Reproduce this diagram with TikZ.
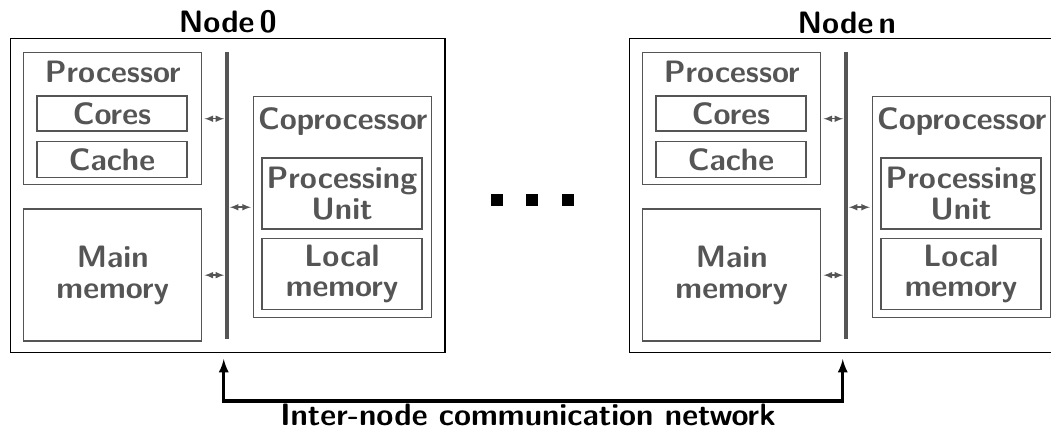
\documentclass[tikz,border=0pt]{standalone}
\usepackage{xcolor}
\usetikzlibrary{arrows,positioning}
\definecolor{partgray}{HTML}{555555}

\begin{document}
\begin{tikzpicture}[x=0.025cm,y=-0.025cm]
    \tikzset{
      outernode/.style={rectangle,draw=black,line width=1pt,inner sep=0pt,anchor=north west},
      partnode/.style={rectangle,draw=partgray,line width=1pt,inner sep=0pt,text=partgray,align=center,font=\sffamily\bfseries\fontsize{22}{22}\selectfont},
      titletext/.style={text=black,font=\sffamily\bfseries\fontsize{22}{22}\selectfont},
      parttext/.style={text=partgray,font=\sffamily\bfseries\fontsize{22}{22}\selectfont,anchor=north},
      busline/.style={draw=partgray,line width=2.2pt},
      busarrow/.style={<->,>=latex,draw=partgray,line width=1.1pt,shorten <=1.5pt,shorten >=2pt},
      netarrow/.style={<->,>=latex,line width=2.2pt,shorten <=4pt,shorten >=4pt}
    }
    \useasboundingbox (0,0) rectangle (1051,429);

    \foreach \nid/\dx in {0/0,n/619}{
      \begin{scope}[shift={(\dx,0)}]
        \node[outernode,minimum width=10.85cm,minimum height=7.85cm,label={[titletext,inner sep=3pt]north:Node\,\nid}](node\nid) at (10,38){};
        \node[partnode,anchor=north west,minimum width=4.45cm,minimum height=3.3cm,label={[parttext,inner sep=6pt]north:Processor}](proc\nid) at (23,52){};
        \node[partnode,minimum width=3.75cm,minimum height=0.875cm](cores\nid) at (112,113.5){Cores};
        \node[partnode,minimum width=3.75cm,minimum height=0.9cm,below=0.225cm of cores\nid](cache\nid){Cache};
        \node[partnode,minimum width=4.45cm,minimum height=3.3cm,below=0.575cm of proc\nid](mem\nid){Main\\memory};
        \node[partnode,anchor=north west,minimum width=4.45cm,minimum height=5.525cm,label={[parttext,inner sep=8pt]north:Coprocessor}](copr\nid) at (253,96){};
        \node[partnode,minimum width=4cm,minimum height=1.775cm](pu\nid) at (342,193.5){Processing\\Unit};
        \node[partnode,minimum width=4cm,minimum height=1.775cm,below=0.2cm of pu\nid](local\nid){Local\\memory};
        \coordinate (bustop\nid) at (227,52);
        \coordinate (busbot\nid) at (227,339);

        \draw[busline](bustop\nid) -- (busbot\nid);
        \draw[busarrow](proc\nid.east) -- (proc\nid.east -| bustop\nid);
        \draw[busarrow](mem\nid.east) -- (mem\nid.east -| bustop\nid);
        \draw[busarrow](copr\nid.west) -- (copr\nid.west -| bustop\nid);
      \end{scope}
    }

    % dots between the nodes
    \foreach \dotx in {497,532,568}
      \fill (\dotx-6,194) rectangle +(12,12);

    \coordinate (netline) at (528,401);
    \node[titletext,anchor=base](net) at (528,425){Inter-node communication network};
    \draw[netarrow]([xshift=-0.1cm]node0.south) |- (netline) -| ([xshift=-0.1cm]noden.south);
\end{tikzpicture}
\end{document}
